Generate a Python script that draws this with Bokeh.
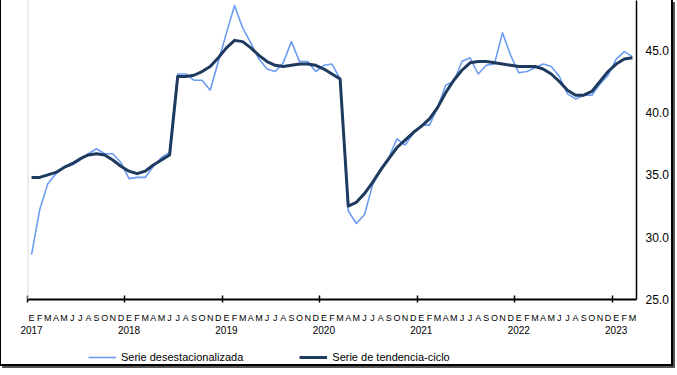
from bokeh.plotting import figure
from bokeh.layouts import column
from bokeh.models import (Range1d, LinearAxis, FixedTicker, Span, Legend, LegendItem,
                          ColumnDataSource, PrintfTickFormatter)
from bokeh.embed import file_html
from bokeh.resources import INLINE

# ---------------- data ----------------
years = ["2017", "2018", "2019", "2020", "2021", "2022", "2023"]
month_letters = ["E", "F", "M", "A", "M", "J", "J", "A", "S", "O", "N", "D"]
series_names = ["Serie desestacionalizada", "Serie de tendencia-ciclo"]

desestacionalizada = [
    28.6, 32.2, 34.3, 35.1, 35.6, 35.8, 36.2, 36.7, 37.1, 36.7, 36.7, 36.0,   # 2017
    34.7, 34.8, 34.8, 35.7, 36.4, 36.8, 43.1, 43.1, 42.6, 42.6, 41.8, 44.1,   # 2018
    46.4, 48.6, 46.8, 45.6, 44.3, 43.5, 43.3, 44.0, 45.7, 44.1, 44.1, 43.3,   # 2019
    43.8, 43.9, 42.7, 32.1, 31.1, 31.8, 34.2, 35.5, 36.4, 37.9, 37.4, 38.3,   # 2020
    39.0, 39.0, 40.4, 42.2, 42.5, 44.1, 44.4, 43.1, 43.8, 43.9, 46.4, 44.6,   # 2021
    43.2, 43.3, 43.6, 43.9, 43.7, 42.9, 41.5, 41.1, 41.4, 41.4, 42.3, 43.0,   # 2022
    44.3, 44.9, 44.5,                                                       # 2023
]
tendencia_ciclo = [
    34.8, 34.8, 35.0, 35.2, 35.6, 35.9, 36.3, 36.6, 36.7, 36.6, 36.2, 35.7,   # 2017
    35.3, 35.1, 35.3, 35.8, 36.2, 36.6, 42.9, 42.9, 43.0, 43.3, 43.7, 44.4,   # 2018
    45.2, 45.8, 45.7, 45.2, 44.6, 44.1, 43.8, 43.7, 43.8, 43.9, 43.9, 43.8,   # 2019
    43.5, 43.1, 42.7, 32.5, 32.8, 33.5, 34.4, 35.4, 36.3, 37.2, 37.8, 38.4,   # 2020
    38.9, 39.5, 40.4, 41.6, 42.6, 43.4, 44.0, 44.1, 44.1, 44.0, 43.9, 43.8,   # 2021
    43.7, 43.7, 43.7, 43.5, 43.1, 42.5, 41.8, 41.4, 41.4, 41.7, 42.5, 43.3,   # 2022
    43.9, 44.3, 44.4,                                                       # 2023
]
y_ticks = [25, 30, 35, 40, 45, 50]

# ---------------- derived ----------------
n = len(desestacionalizada)
xs = [i + 0.5 for i in range(n)]
source = ColumnDataSource(dict(x=xs, d=desestacionalizada, t=tendencia_ciclo))

FONT = "Liberation Sans"
BLUE = "#6c9cf2"
NAVY = "#1f3a5f"

p = figure(frame_width=609, frame_height=299, output_backend="svg", toolbar_location=None,
           x_range=Range1d(0, n), y_range=Range1d(25, 49),
           x_axis_location="below", y_axis_location="right",
           min_border_left=26, min_border_top=0, min_border_bottom=0, min_border_right=0)
p.grid.visible = False
p.outline_line_color = None
p.background_fill_color = "white"
p.border_fill_color = "white"

# left light-gray edge of plot area
p.add_layout(Span(location=0, dimension="height", line_color="#d9d9d9", line_width=2))

p.line("x", "d", source=source, line_color=BLUE, line_width=1.6, line_join="round")
p.line("x", "t", source=source, line_color=NAVY, line_width=3, line_join="round")

# right value axis
ya = p.yaxis[0]
ya.ticker = FixedTicker(ticks=y_ticks)
ya.formatter = PrintfTickFormatter(format="%.1f")
ya.axis_line_color = "black"
ya.axis_line_width = 1.5
ya.major_tick_out = 0
ya.major_tick_in = 0
ya.minor_tick_line_color = None
ya.major_label_standoff = 9
ya.major_label_text_font = FONT
ya.major_label_text_font_size = "12px"
ya.major_label_text_color = "black"

# bottom axis: month letters + year-boundary ticks
year_bounds = [12 * k for k in range(len(years))]
month_overrides = {x: month_letters[i % 12] for i, x in enumerate(xs)}
xa = p.xaxis[0]
xa.ticker = FixedTicker(ticks=xs, minor_ticks=year_bounds)
xa.major_label_overrides = month_overrides
xa.axis_line_color = "black"
xa.axis_line_width = 2
xa.major_tick_line_color = None
xa.major_tick_out = 0
xa.major_tick_in = 0
xa.minor_tick_line_color = "black"
xa.minor_tick_line_width = 1.5
xa.minor_tick_in = 4
xa.minor_tick_out = 3
xa.major_label_standoff = 10
xa.axis_label_standoff = 0
xa.major_label_text_font = FONT
xa.major_label_text_font_size = "9px"
xa.major_label_text_color = "black"

# second bottom axis: years
year_pos = [12 * k + 0.5 for k in range(len(years))]
xb = LinearAxis(ticker=FixedTicker(ticks=year_pos, minor_ticks=[]),
                major_label_overrides={x: years[k] for k, x in enumerate(year_pos)})
xb.axis_line_color = None
xb.major_tick_line_color = None
xb.minor_tick_line_color = None
xb.major_tick_out = 0
xb.major_tick_in = 0
xb.major_label_standoff = 0
xb.axis_label_standoff = 0
xb.major_label_text_font = FONT
xb.major_label_text_font_size = "10px"
xb.major_label_text_color = "black"
p.add_layout(xb, "below")

# legend row (separate strip below the chart); sample lines lie outside its ranges
lf = figure(width=661, height=28, output_backend="svg", toolbar_location=None,
            x_range=Range1d(0, 1), y_range=Range1d(0, 1),
            x_axis_location=None, y_axis_location=None,
            min_border=0)
lf.grid.visible = False
lf.outline_line_color = None
lf.background_fill_color = "white"
lf.border_fill_color = "white"
g1 = lf.line(x=[5, 6], y=[5, 6], line_color=BLUE, line_width=1.6)
g2 = lf.line(x=[5, 6], y=[5, 6], line_color=NAVY, line_width=3)

legend = Legend(items=[LegendItem(label=series_names[0], renderers=[g1]),
                       LegendItem(label=series_names[1], renderers=[g2])],
                orientation="horizontal", location=(61, 1))
legend.border_line_color = None
legend.background_fill_alpha = 0
legend.label_text_font = FONT
legend.label_text_font_size = "11px"
legend.label_text_color = "black"
legend.glyph_width = 28
legend.glyph_height = 12
legend.label_height = 12
legend.label_standoff = 5
legend.spacing = 56
legend.padding = 0
legend.margin = 0
lf.add_layout(legend, "center")

layout = column(p, lf, spacing=0)
layout.styles = {"border-left": "1px solid #000", "border-right": "2px solid #000",
                 "border-bottom": "2px solid #000", "box-shadow": "2px 2px 0 #555"}

open("out.html", "w").write(file_html(layout, INLINE))
